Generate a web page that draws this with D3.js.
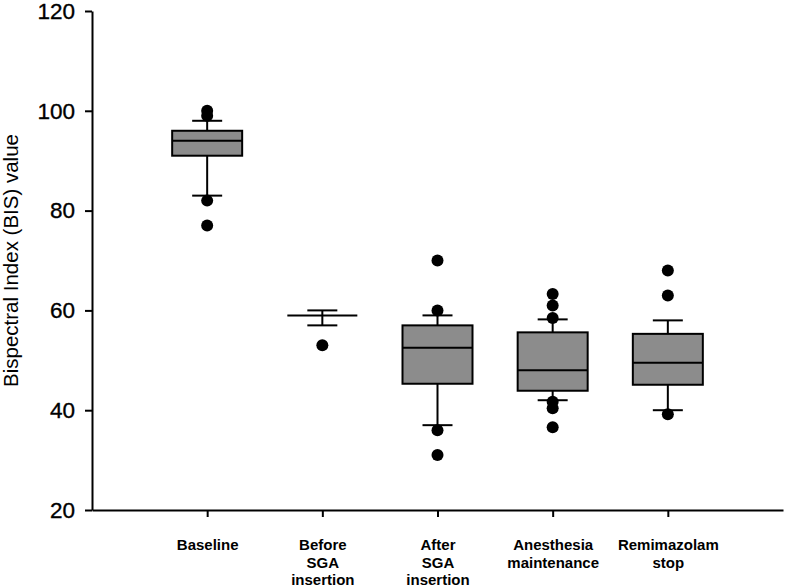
<!DOCTYPE html>
<html>
<head>
<meta charset="utf-8">
<script src="https://cdn.jsdelivr.net/npm/d3@7"></script>
<style>
  html, body { margin: 0; padding: 0; background: #fff; }
  svg { display: block; font-family: "Liberation Sans", Arial, sans-serif; }
</style>
</head>
<body>
<svg id="chart" width="786" height="588"></svg>
<script>
// ---- data ----
const categories = ["Baseline", "Before SGA insertion", "After SGA insertion", "Anesthesia maintenance", "Remimazolam stop"];
const categoryLines = [["Baseline"], ["Before", "SGA", "insertion"], ["After", "SGA", "insertion"], ["Anesthesia", "maintenance"], ["Remimazolam", "stop"]];
const q1 = [91, 59, 45.3, 43.9, 45.1];
const median = [94, 59, 52.5, 48, 49.5];
const q3 = [96, 59, 57, 55.6, 55.3];
const whiskerLow = [83, 57, 37, 42, 40];
const whiskerHigh = [98, 60, 59, 58.2, 58];
const outliers = [
  [100, 99, 82, 77],
  [53],
  [70, 60, 36, 31],
  [63.3, 61, 58.5, 41.7, 40.4, 36.6],
  [68, 63, 39.2]
];
const yTicks = [20, 40, 60, 80, 100, 120];
const yTitle = "Bispectral Index (BIS) value";

// ---- layout ----
const svg = d3.select("#chart");
const mLeft = 92, mRight = 783, mTop = 11, mBottom = 510;
const x = d3.scalePoint().domain(categories).range([mLeft, mRight]).padding(1);
const y = d3.scaleLinear().domain([20, 120]).range([mBottom, mTop]);
const boxW = 70, capW = 30, r = 6;

const rows = categories.map((c, i) => ({
  c, q1: q1[i], med: median[i], q3: q3[i], lo: whiskerLow[i], hi: whiskerHigh[i], out: outliers[i]
}));

const g = svg.append("g");

// whiskers
rows.forEach(d => {
  const cx = x(d.c);
  g.append("line").attr("x1", cx).attr("x2", cx).attr("y1", y(d.hi)).attr("y2", y(d.q3))
    .attr("stroke", "#000").attr("stroke-width", 2);
  g.append("line").attr("x1", cx).attr("x2", cx).attr("y1", y(d.q1)).attr("y2", y(d.lo))
    .attr("stroke", "#000").attr("stroke-width", 2);
  [d.hi, d.lo].forEach(v => {
    g.append("line").attr("x1", cx - capW / 2).attr("x2", cx + capW / 2).attr("y1", y(v)).attr("y2", y(v))
      .attr("stroke", "#000").attr("stroke-width", 2);
  });
});

// boxes
g.selectAll("rect.box").data(rows).enter().append("rect")
  .attr("class", "box")
  .attr("x", d => x(d.c) - boxW / 2)
  .attr("width", boxW)
  .attr("y", d => y(d.q3))
  .attr("height", d => y(d.q1) - y(d.q3))
  .attr("fill", "#8c8c8c")
  .attr("stroke", "#000")
  .attr("stroke-width", 2);

g.selectAll("line.med").data(rows).enter().append("line")
  .attr("class", "med")
  .attr("x1", d => x(d.c) - boxW / 2).attr("x2", d => x(d.c) + boxW / 2)
  .attr("y1", d => y(d.med)).attr("y2", d => y(d.med))
  .attr("stroke", "#000").attr("stroke-width", 2);

// outliers
rows.forEach(d => {
  g.selectAll(null).data(d.out).enter().append("circle")
    .attr("cx", x(d.c)).attr("cy", v => y(v)).attr("r", r).attr("fill", "#000");
});

// axes
const yAxis = svg.append("g").attr("transform", `translate(${mLeft},0)`)
  .call(d3.axisLeft(y).tickValues(yTicks).tickSize(7).tickSizeOuter(0).tickPadding(10));
yAxis.selectAll("text").attr("font-size", 22.5).attr("fill", "#000")
  .attr("stroke", "#000").attr("stroke-width", 0.35)
  .attr("font-family", "Liberation Sans, Arial, sans-serif");
yAxis.selectAll("line, path").attr("stroke", "#000").attr("stroke-width", 2);

const xAxis = svg.append("g").attr("transform", `translate(0,${mBottom})`)
  .call(d3.axisBottom(x).tickSize(7).tickSizeOuter(0).tickFormat(""));
xAxis.selectAll("line, path").attr("stroke", "#000").attr("stroke-width", 2);

// category labels (multi-line)
xAxis.selectAll("g.tick").each(function(c) {
  const t = d3.select(this).append("text")
    .attr("fill", "#000").attr("font-size", 15).attr("font-weight", "bold")
    .attr("text-anchor", "middle").attr("font-family", "Liberation Sans, Arial, sans-serif");
  categoryLines[categories.indexOf(c)].forEach((line, k) => {
    t.append("tspan").attr("x", 0).attr("y", 40 + k * 17.5).text(line);
  });
});

// y title
svg.append("text")
  .attr("transform", `translate(18,${(mTop + mBottom) / 2}) rotate(-90)`)
  .attr("text-anchor", "middle")
  .attr("font-size", 20.5)
  .attr("fill", "#000")
  .text(yTitle);
</script>
</body>
</html>
